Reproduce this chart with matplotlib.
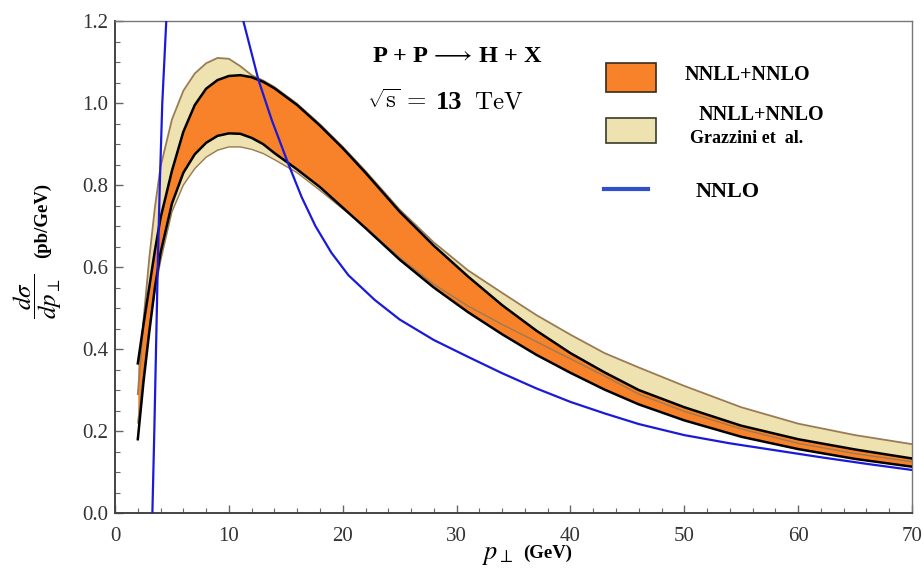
import matplotlib
matplotlib.use('Agg')
import matplotlib.pyplot as plt
from matplotlib.patches import Rectangle
from matplotlib.lines import Line2D
from matplotlib.ticker import MultipleLocator, FormatStrFormatter

# p_T grid shared by both bands (GeV)
pt = [2, 2.5, 3, 3.5, 4, 5, 6, 7, 8, 9, 10, 11, 12, 13, 14, 16, 18, 20, 22, 25,
      28, 31, 34, 37, 40, 43, 46, 50, 55, 60, 65, 70]

# NNLL+NNLO band (orange)
nnll_hi = [0.365, 0.46, 0.55, 0.64, 0.72, 0.835, 0.93, 0.995, 1.035, 1.056, 1.066, 1.068,
           1.063, 1.052, 1.036, 0.995, 0.945, 0.89, 0.83, 0.735, 0.652, 0.577, 0.507, 0.445,
           0.39, 0.343, 0.30, 0.258, 0.213, 0.18, 0.155, 0.133]
nnll_lo = [0.18, 0.32, 0.44, 0.55, 0.635, 0.755, 0.83, 0.875, 0.903, 0.92, 0.926, 0.925,
           0.915, 0.90, 0.878, 0.838, 0.795, 0.745, 0.695, 0.618, 0.55, 0.49, 0.436, 0.386,
           0.342, 0.301, 0.265, 0.226, 0.186, 0.156, 0.132, 0.113]

# NNLL+NNLO Grazzini et al. band (beige)
graz_hi = [0.29, 0.47, 0.62, 0.745, 0.845, 0.96, 1.03, 1.072, 1.097, 1.11, 1.108, 1.09,
           1.068, 1.055, 1.039, 0.998, 0.948, 0.893, 0.834, 0.74, 0.66, 0.592, 0.537, 0.483,
           0.435, 0.39, 0.355, 0.31, 0.258, 0.218, 0.19, 0.168]
graz_lo = [0.22, 0.34, 0.45, 0.54, 0.615, 0.735, 0.80, 0.84, 0.868, 0.885, 0.893, 0.893,
           0.887, 0.877, 0.862, 0.83, 0.787, 0.742, 0.697, 0.623, 0.558, 0.505, 0.46, 0.418,
           0.376, 0.334, 0.29, 0.248, 0.205, 0.17, 0.145, 0.125]

# fixed-order NNLO (blue), two visible branches (goes off the top in between)
nnlo_pt_a = [3.2, 3.28, 3.45, 3.6, 3.75, 3.93, 4.15, 4.5, 4.7]
nnlo_a = [-0.1, 0.0, 0.2, 0.4, 0.6, 0.8, 1.0, 1.2, 1.32]
nnlo_pt_b = [10.9, 11.27, 12.0, 12.6, 13.76, 15.2, 16.4, 17.6, 19.0, 20.5, 22.8, 25, 28, 31,
             34, 37, 40, 43, 46, 50, 54, 58, 62, 66, 70]
nnlo_b = [1.3, 1.2, 1.121, 1.056, 0.959, 0.853, 0.77, 0.70, 0.635, 0.58, 0.52, 0.472, 0.422,
          0.381, 0.341, 0.304, 0.271, 0.243, 0.217, 0.19, 0.17, 0.153, 0.136, 0.12, 0.105]

ORANGE = "#f8822a"
BEIGE = "#ede2b0"
BROWN = "#9a7b55"
BLUE = "#1a1ad8"
SERIF = ["Liberation Serif", "DejaVu Serif"]

fig = plt.figure(figsize=(9.24, 5.69), dpi=100)
ax = fig.add_axes([0.1245, 0.0984, 0.8625, 0.8646])

# bands
ax.fill_between(pt, graz_lo, graz_hi, color=BEIGE, lw=0, zorder=1)
ax.fill_between(pt, nnll_lo, nnll_hi, color=ORANGE, lw=0, zorder=2)
ax.plot(pt, graz_hi, color=BROWN, lw=1.3, zorder=3)
ax.plot(pt, graz_lo, color=BROWN, lw=1.0, zorder=3)
ax.plot(pt, nnll_hi, color="black", lw=1.8, zorder=4)
ax.plot(pt, nnll_lo, color="black", lw=1.8, zorder=4)

# NNLO
ax.plot(nnlo_pt_a, nnlo_a, color=BLUE, lw=1.6, zorder=5)
ax.plot(nnlo_pt_b, nnlo_b, color=BLUE, lw=1.6, zorder=5)

ax.set_xlim(0, 70)
ax.set_ylim(0, 1.2)
ax.xaxis.set_major_locator(MultipleLocator(10))
ax.xaxis.set_minor_locator(MultipleLocator(2))
ax.yaxis.set_major_locator(MultipleLocator(0.2))
ax.yaxis.set_minor_locator(MultipleLocator(0.05))
ax.yaxis.set_major_formatter(FormatStrFormatter('%.1f'))
ax.tick_params(which="both", direction="in", top=False, right=False, color="#666666")
ax.tick_params(which="major", length=6, width=1.0)
ax.tick_params(which="minor", length=3.5, width=0.8)
ax.tick_params(axis="x", pad=10)
ax.tick_params(axis="y", pad=5)
for lab in ax.get_xticklabels() + ax.get_yticklabels():
    lab.set_fontfamily(SERIF)
    lab.set_fontsize(15)
    lab.set_color("#333333")
for side in ["left", "bottom"]:
    ax.spines[side].set_color("#444444")
    ax.spines[side].set_linewidth(1.4)
for side in ["top", "right"]:
    ax.spines[side].set_color("#777777")
    ax.spines[side].set_linewidth(1.0)

# axis labels
ax.text(0.48, -0.083, r"$p_\perp$", transform=ax.transAxes, fontsize=19,
        math_fontfamily="stix", ha="center", va="center")
ax.text(0.543, -0.081, "(GeV)", transform=ax.transAxes, fontsize=13.5,
        fontweight="bold", family=SERIF, ha="center", va="center")
ax.text(-0.097, 0.44, r"$\dfrac{d\sigma}{dp_\perp}$", transform=ax.transAxes, fontsize=18,
        math_fontfamily="stix", rotation=90, ha="center", va="center")
ax.text(-0.0905, 0.594, "(pb/GeV)", transform=ax.transAxes, fontsize=13.5,
        fontweight="bold", family=SERIF, rotation=90, ha="center", va="center")

# process annotation
ax.text(0.3225, 0.927, r"P + P$\,\longrightarrow\,$H + X", transform=ax.transAxes,
        fontsize=17.5, fontweight="bold", family=SERIF, math_fontfamily="stix",
        ha="left", va="center")
ax.text(0.316, 0.837, r"$\sqrt{\rm s}\, =$", transform=ax.transAxes,
        fontsize=18, math_fontfamily="cm", ha="left", va="center")
ax.text(0.402, 0.834, "13", transform=ax.transAxes, fontsize=19,
        fontweight="bold", family=SERIF, ha="left", va="center")
ax.text(0.451, 0.837, r"$\mathrm{TeV}$", transform=ax.transAxes,
        fontsize=18, math_fontfamily="cm", ha="left", va="center")

# hand-placed legend
ax.add_patch(Rectangle((0.616, 0.856), 0.063, 0.059, transform=ax.transAxes,
                       facecolor=ORANGE, edgecolor="#3a2a1a", lw=1.2, zorder=6))
ax.add_patch(Rectangle((0.616, 0.752), 0.063, 0.051, transform=ax.transAxes,
                       facecolor=BEIGE, edgecolor="#3a3a2a", lw=1.2, zorder=6))
ax.add_line(Line2D([0.6135, 0.669], [0.6585, 0.6585], transform=ax.transAxes,
                   color="#3050c8", lw=3, zorder=6))
ax.text(0.715, 0.89, "NNLL+NNLO", transform=ax.transAxes, fontsize=14.5,
        fontweight="bold", family=SERIF, ha="left", va="center")
ax.text(0.732, 0.809, "NNLL+NNLO", transform=ax.transAxes, fontsize=14.5,
        fontweight="bold", family=SERIF, ha="left", va="center")
ax.text(0.722, 0.762, "Grazzini et  al.", transform=ax.transAxes, fontsize=13,
        fontweight="bold", family=SERIF, ha="left", va="center")
ax.text(0.728, 0.652, "NNLO", transform=ax.transAxes, fontsize=16,
        fontweight="bold", family=SERIF, ha="left", va="center")

fig.savefig("out.png", dpi=100, facecolor="white")
plt.close(fig)
